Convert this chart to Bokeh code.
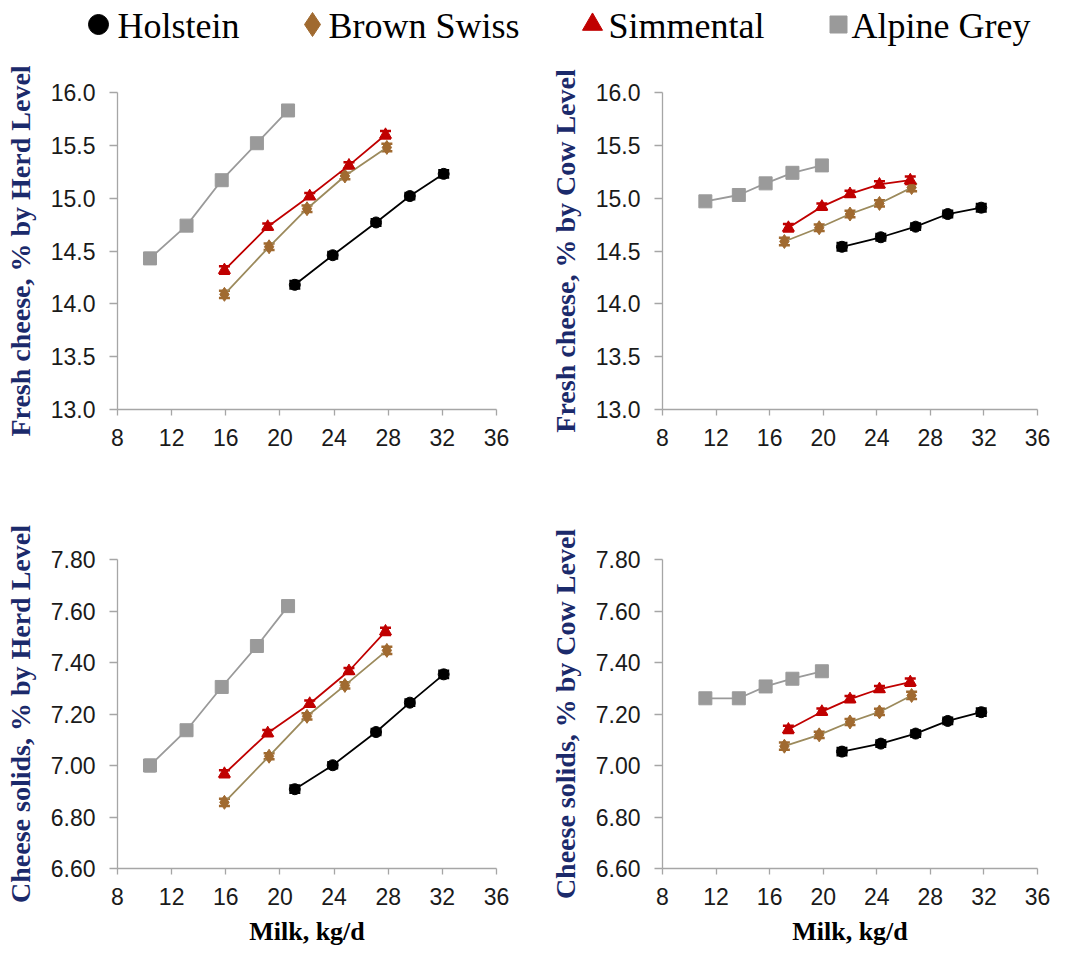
from bokeh.plotting import figure
from bokeh.layouts import column, row
from bokeh.models import Range1d, FixedTicker, NumeralTickFormatter, Whisker, TeeHead, ColumnDataSource
from bokeh.embed import file_html
from bokeh.resources import INLINE
from bokeh.core.properties import value

# ---------------- data ----------------
breeds = ["Holstein", "Brown Swiss", "Simmental", "Alpine Grey"]
x_ticks = [8, 12, 16, 20, 24, 28, 32, 36]
fc_ticks = [13.0, 13.5, 14.0, 14.5, 15.0, 15.5, 16.0]
cs_ticks = [6.60, 6.80, 7.00, 7.20, 7.40, 7.60, 7.80]

# milk yield, kg/d (herd level)
hol_milk_herd = [21.1, 23.9, 27.1, 29.6, 32.1]
bsw_milk_herd = [15.9, 19.2, 22.0, 24.8, 27.9]
sim_milk_herd = [15.9, 19.1, 22.2, 25.1, 27.8]
alp_milk_herd = [10.4, 13.1, 15.7, 18.3, 20.6]
# milk yield, kg/d (cow level)
hol_milk_cow = [21.4, 24.3, 26.9, 29.3, 31.8]
bsw_milk_cow = [17.1, 19.7, 22.0, 24.2, 26.6]
sim_milk_cow = [17.4, 19.9, 22.0, 24.2, 26.5]
alp_milk_cow = [11.2, 13.7, 15.7, 17.7, 19.9]

# fresh cheese, %
hol_fc_herd = [14.18, 14.46, 14.77, 15.02, 15.23]
bsw_fc_herd = [14.09, 14.54, 14.90, 15.21, 15.48]
sim_fc_herd = [14.32, 14.73, 15.02, 15.31, 15.60]
alp_fc_herd = [14.43, 14.74, 15.17, 15.52, 15.83]
hol_fc_cow = [14.54, 14.63, 14.73, 14.85, 14.91]
bsw_fc_cow = [14.59, 14.72, 14.85, 14.95, 15.10]
sim_fc_cow = [14.72, 14.92, 15.04, 15.13, 15.17]
alp_fc_cow = [14.97, 15.03, 15.14, 15.24, 15.31]

# cheese solids, %
hol_cs_herd = [6.908, 7.001, 7.130, 7.244, 7.354]
bsw_cs_herd = [6.857, 7.036, 7.191, 7.311, 7.447]
sim_cs_herd = [6.968, 7.126, 7.240, 7.367, 7.521]
alp_cs_herd = [7.000, 7.137, 7.305, 7.464, 7.619]
hol_cs_cow = [7.054, 7.085, 7.124, 7.173, 7.207]
bsw_cs_cow = [7.075, 7.119, 7.169, 7.208, 7.272]
sim_cs_cow = [7.140, 7.209, 7.258, 7.297, 7.324]
alp_cs_cow = [7.261, 7.261, 7.307, 7.337, 7.366]

# standard errors (approximate)
fc_se = [0.035, 0.03, 0.03, 0.03, 0.035]
alp_fc_se = [0.05, 0.01, 0.01, 0.01, 0.01]
cs_se = [0.014, 0.012, 0.012, 0.012, 0.014]
alp_cs_se = [0.022, 0.004, 0.004, 0.004, 0.004]

# ---------------- styles ----------------
marker_of = {"Holstein": "circle", "Brown Swiss": "diamond",
             "Simmental": "triangle", "Alpine Grey": "square"}
mcolor = {"Holstein": "#000000", "Brown Swiss": "#A06A30",
          "Simmental": "#C00000", "Alpine Grey": "#9A9A9A"}
lcolor = {"Holstein": "#000000", "Brown Swiss": "#9C8A5C",
          "Simmental": "#C00000", "Alpine Grey": "#9A9A9A"}
msize = {"Holstein": 11, "Brown Swiss": 14, "Simmental": 12, "Alpine Grey": 13}

TITLE_COLOR = "#1B2A6B"
AXIS_GRAY = "#A6A6A6"
SERIF = "Liberation Serif"
SANS = "Liberation Sans"


def panel(width, height, bl, br, bt, bb, yr, yticks, yfmt, ylabel, xlabel, series):
    p = figure(width=width, height=height, x_range=Range1d(8, 36),
               y_range=Range1d(*yr), output_backend="svg", toolbar_location=None,
               min_border_left=bl, min_border_right=br, min_border_top=bt,
               min_border_bottom=bb)
    p.outline_line_color = None
    p.grid.visible = False
    p.xaxis.ticker = FixedTicker(ticks=x_ticks)
    p.yaxis.ticker = FixedTicker(ticks=yticks)
    p.yaxis.formatter = NumeralTickFormatter(format=yfmt)
    for ax in (p.xaxis[0], p.yaxis[0]):
        ax.axis_line_color = AXIS_GRAY
        ax.axis_line_width = 1.3
        ax.major_tick_line_color = AXIS_GRAY
        ax.major_tick_line_width = 1.3
        ax.minor_tick_line_color = None
        ax.major_tick_in = 0
        ax.major_label_text_font = SANS
        ax.major_label_text_font_size = "23px"
        ax.major_label_text_color = "#1a1a1a"
    p.yaxis.major_tick_out = 8
    p.xaxis.major_tick_out = 6
    p.yaxis.major_label_standoff = 14
    p.xaxis.major_label_standoff = 13
    p.yaxis.axis_label = ylabel
    p.yaxis.axis_label_text_font = SERIF
    p.yaxis.axis_label_text_font_style = "bold"
    p.yaxis.axis_label_text_font_size = "28px"
    p.yaxis.axis_label_text_color = TITLE_COLOR
    p.yaxis.axis_label_standoff = 12
    if xlabel:
        p.xaxis.axis_label = xlabel
        p.xaxis.axis_label_text_font = SERIF
        p.xaxis.axis_label_text_font_style = "bold"
        p.xaxis.axis_label_text_font_size = "26px"
        p.xaxis.axis_label_text_color = "#000000"
        p.xaxis.axis_label_standoff = 9
    for name, xs, ys, se in series:
        p.line(xs, ys, line_color=lcolor[name], line_width=1.8)
        src = ColumnDataSource(dict(x=xs, lo=[y - s for y, s in zip(ys, se)],
                                    hi=[y + s for y, s in zip(ys, se)]))
        w = Whisker(source=src, base="x", lower="lo", upper="hi",
                    line_color=mcolor[name], line_width=2,
                    upper_head=TeeHead(size=11, line_color=mcolor[name], line_width=2.5),
                    lower_head=TeeHead(size=11, line_color=mcolor[name], line_width=2.5))
        p.add_layout(w)
        p.scatter(xs, ys, marker=marker_of[name], size=msize[name],
                  fill_color=mcolor[name], line_color=mcolor[name])
    return p


p_tl = panel(530, 425, 117, 34, 42, 66, (13.0, 16.0), fc_ticks, "0.0",
             "Fresh cheese, % by Herd Level", None,
             [("Alpine Grey", alp_milk_herd, alp_fc_herd, alp_fc_se),
              ("Brown Swiss", bsw_milk_herd, bsw_fc_herd, fc_se),
              ("Simmental", sim_milk_herd, sim_fc_herd, fc_se),
              ("Holstein", hol_milk_herd, hol_fc_herd, fc_se)])
p_tr = panel(536, 425, 132, 29, 42, 66, (13.0, 16.0), fc_ticks, "0.0",
             "Fresh cheese, % by Cow Level", None,
             [("Alpine Grey", alp_milk_cow, alp_fc_cow, [0.01] * 5),
              ("Brown Swiss", bsw_milk_cow, bsw_fc_cow, fc_se),
              ("Simmental", sim_milk_cow, sim_fc_cow, fc_se),
              ("Holstein", hol_milk_cow, hol_fc_cow, fc_se)])
p_bl = panel(530, 480, 117, 34, 84, 87, (6.60, 7.80), cs_ticks, "0.00",
             "Cheese solids, % by Herd Level", "Milk, kg/d",
             [("Alpine Grey", alp_milk_herd, alp_cs_herd, alp_cs_se),
              ("Brown Swiss", bsw_milk_herd, bsw_cs_herd, cs_se),
              ("Simmental", sim_milk_herd, sim_cs_herd, cs_se),
              ("Holstein", hol_milk_herd, hol_cs_herd, cs_se)])
p_br = panel(536, 480, 132, 29, 84, 87, (6.60, 7.80), cs_ticks, "0.00",
             "Cheese solids, % by Cow Level", "Milk, kg/d",
             [("Alpine Grey", alp_milk_cow, alp_cs_cow, [0.004] * 5),
              ("Brown Swiss", bsw_milk_cow, bsw_cs_cow, cs_se),
              ("Simmental", sim_milk_cow, sim_cs_cow, cs_se),
              ("Holstein", hol_milk_cow, hol_cs_cow, cs_se)])

# ---------------- legend strip ----------------
leg = figure(width=1066, height=50, x_range=Range1d(0, 1066), y_range=Range1d(50, 0),
             output_backend="svg", toolbar_location=None, x_axis_type=None,
             y_axis_type=None, min_border=0)
leg.outline_line_color = None
leg.grid.visible = False
leg_marker_x = [98, 312, 592, 838]
leg_text_x = [117, 328, 608, 851]
leg_sizes = [20, 24, 20, 17]
for i, name in enumerate(breeds):
    leg.scatter([leg_marker_x[i]], [24], marker=marker_of[name], size=leg_sizes[i],
                fill_color=mcolor[name], line_color=mcolor[name])
    leg.text([leg_text_x[i]], [25], text=[name], text_font=value(SERIF),
             text_font_size="36px", text_baseline="middle", text_align="left",
             text_color="#000000")

layout = column(leg, row(p_tl, p_tr), row(p_bl, p_br))
open("out.html", "w").write(file_html(layout, INLINE))
